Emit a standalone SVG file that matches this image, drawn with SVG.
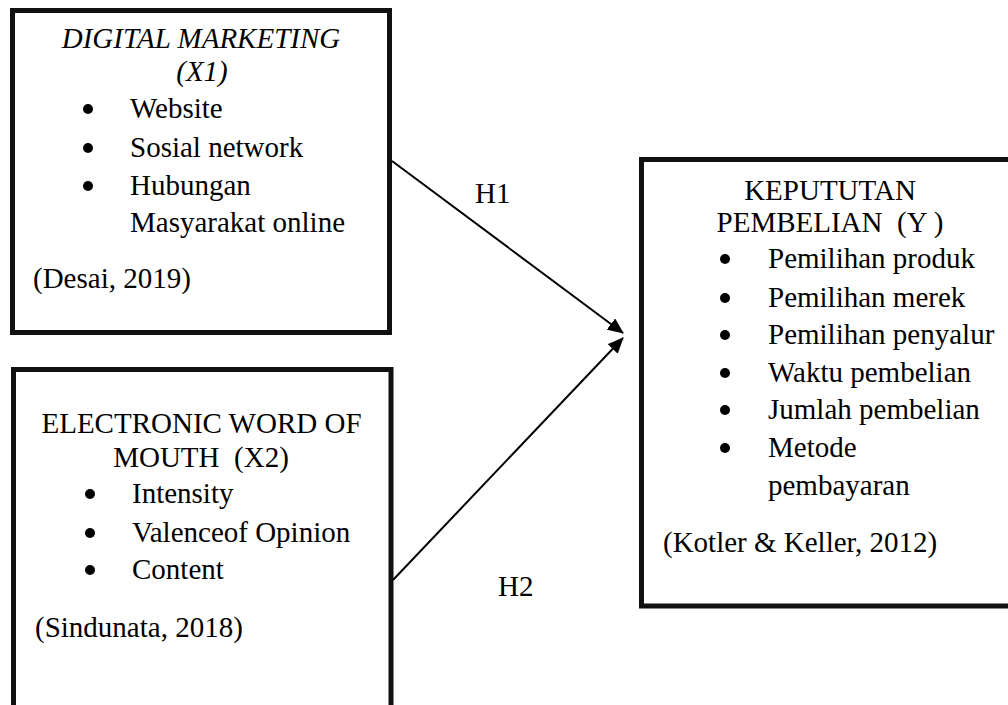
<svg xmlns="http://www.w3.org/2000/svg" width="1008" height="705" viewBox="0 0 1008 705">
  <style>
    .box { fill: #fff; stroke: #111; stroke-width: 5; }
    .t { font-family: "Liberation Serif", "Times New Roman", serif; font-size: 29px; fill: #000; white-space: pre; }
    .c { text-anchor: middle; }
    .i { font-style: italic; }
    .b { fill: #000; }
    .con { stroke: #000; stroke-width: 2; fill: none; }
  </style>
  <defs>
    <marker id="arr" markerUnits="userSpaceOnUse" markerWidth="17" markerHeight="14" refX="15" refY="7" orient="auto">
      <path d="M0,0 L16,7 L0,14 z" fill="#000"/>
    </marker>
  </defs>
  <rect x="0" y="0" width="1008" height="705" fill="#fff"/>

  <g id="x1">
    <rect class="box" x="12.5" y="10.5" width="377" height="322"/>
    <text class="t c i" x="201" y="48">DIGITAL MARKETING</text>
    <text class="t c i" x="202" y="81">(X1)</text>
    <circle class="b" cx="88" cy="109" r="5"/>
    <text class="t" x="130" y="118">Website</text>
    <circle class="b" cx="88" cy="148" r="5"/>
    <text class="t" x="130" y="157">Sosial network</text>
    <circle class="b" cx="88" cy="186" r="5"/>
    <text class="t" x="130" y="195">Hubungan</text>
    <text class="t" x="130" y="232">Masyarakat online</text>
    <text class="t" x="33" y="288">(Desai, 2019)</text>
  </g>

  <g id="x2">
    <rect class="box" x="13.5" y="369.5" width="377.5" height="400"/>
    <text class="t c" x="201.5" y="433">ELECTRONIC WORD OF</text>
    <text class="t c" x="201" y="467">MOUTH  (X2)</text>
    <circle class="b" cx="90" cy="494" r="5"/>
    <text class="t" x="132" y="503">Intensity</text>
    <circle class="b" cx="90" cy="533" r="5"/>
    <text class="t" x="132" y="542">Valenceof Opinion</text>
    <circle class="b" cx="90" cy="570" r="5"/>
    <text class="t" x="132" y="579">Content</text>
    <text class="t" x="35" y="637">(Sindunata, 2018)</text>
  </g>

  <g id="y">
    <rect class="box" x="641.5" y="159.5" width="380" height="446.5"/>
    <text class="t c" x="830" y="200">KEPUTUTAN</text>
    <text class="t c" x="830" y="232">PEMBELIAN  (Y )</text>
    <circle class="b" cx="725" cy="259" r="5"/>
    <text class="t" x="768" y="268">Pemilihan produk</text>
    <circle class="b" cx="725" cy="298" r="5"/>
    <text class="t" x="768" y="307">Pemilihan merek</text>
    <circle class="b" cx="725" cy="335" r="5"/>
    <text class="t" x="768" y="344">Pemilihan penyalur</text>
    <circle class="b" cx="725" cy="373" r="5"/>
    <text class="t" x="768" y="382">Waktu pembelian</text>
    <circle class="b" cx="725" cy="410" r="5"/>
    <text class="t" x="768" y="419">Jumlah pembelian</text>
    <circle class="b" cx="725" cy="448" r="5"/>
    <text class="t" x="768" y="457">Metode</text>
    <text class="t" x="768" y="495">pembayaran</text>
    <text class="t" x="663" y="552">(Kotler &amp; Keller, 2012)</text>
  </g>

  <g id="connectors">
    <line class="con" x1="392" y1="161" x2="623" y2="333" marker-end="url(#arr)"/>
    <line class="con" x1="393" y1="580" x2="623" y2="338" marker-end="url(#arr)"/>
    <text class="t" x="475" y="203">H1</text>
    <text class="t" x="498" y="596">H2</text>
  </g>
</svg>
